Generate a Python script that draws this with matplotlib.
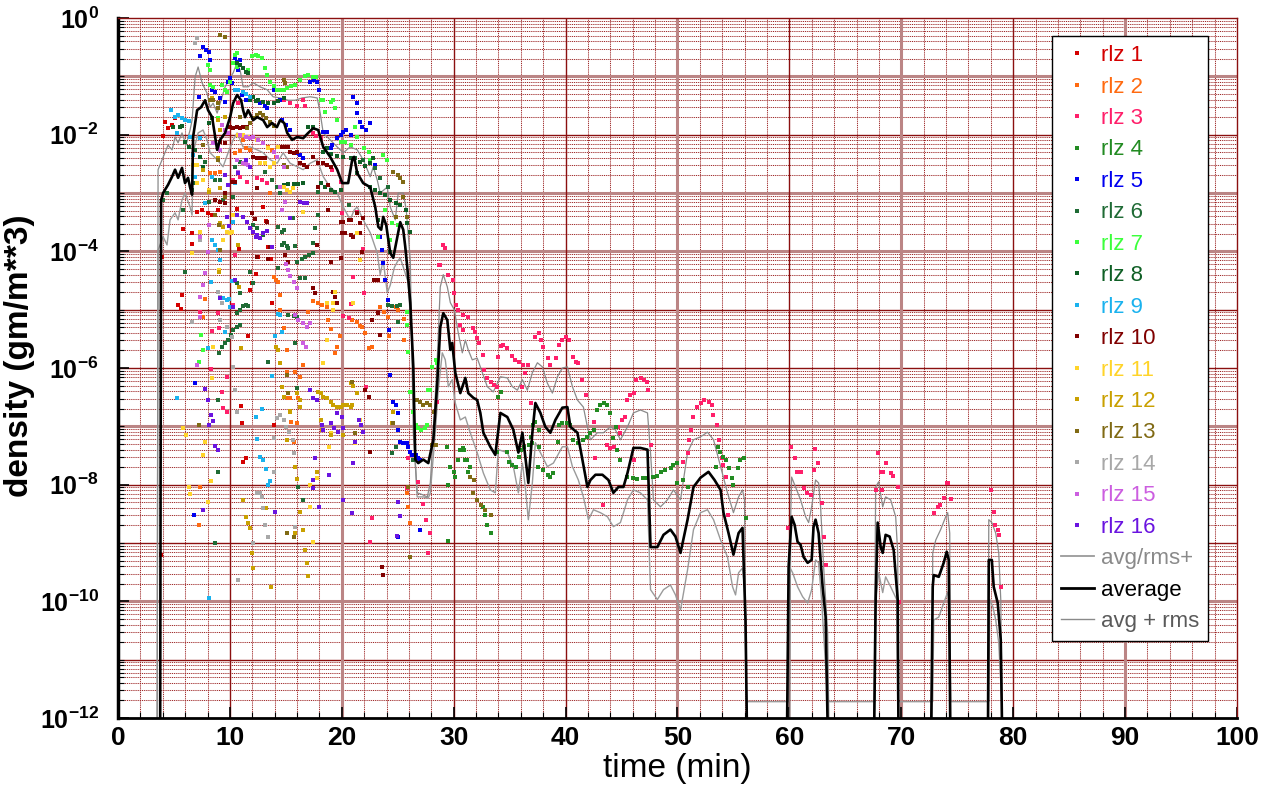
import numpy as np
import matplotlib
matplotlib.use('Agg')
import matplotlib.pyplot as plt
from matplotlib.lines import Line2D
from matplotlib.ticker import FixedLocator, NullFormatter

plt.rcParams['font.family'] = ['Liberation Sans', 'DejaVu Sans']
plt.rcParams['mathtext.fontset'] = 'custom'
plt.rcParams['mathtext.rm'] = 'Liberation Sans'
plt.rcParams['mathtext.bf'] = 'Liberation Sans:bold'
plt.rcParams['mathtext.it'] = 'Liberation Sans:italic'

# ---------------- data: (time [min], log10 density) ----------------
average = [(3.76,-13),(3.85,-3.12),(4.03,-3.0),(4.47,-2.86),(4.83,-2.72),(5.1,-2.6),(5.37,-2.74),(5.72,-2.57),
 (5.99,-2.83),(6.26,-2.74),(6.44,-2.9),(6.62,-3.03),(6.71,-2.04),(7.07,-1.58),(7.42,-1.53),(7.78,-1.41),(8.05,-1.58),
 (8.41,-1.70),(8.86,-2.26),(9.12,-2.09),(9.57,-1.97),(10.02,-1.70),(10.29,-1.46),(10.64,-1.32),(11.0,-1.41),(11.18,-1.58),
 (11.36,-1.70),(11.63,-1.58),(12.08,-1.75),(12.43,-1.70),(12.97,-1.75),(13.33,-1.87),(13.77,-1.80),(14.2,-1.87),(14.49,-1.75),
 (14.85,-1.80),(15.12,-1.97),(15.56,-2.09),(16.0,-2.04),(16.55,-2.06),(17.0,-1.97),(17.44,-1.89),(17.89,-1.92),(18.34,-2.21),
 (18.96,-2.38),(19.59,-2.6),(20.04,-2.83),(20.57,-2.83),(20.93,-2.43),(21.1,-2.38),(21.38,-2.66),(21.91,-2.83),(22.54,-2.9),
 (22.99,-3.24),(23.26,-3.58),(23.52,-3.63),(23.7,-3.41),(23.97,-3.55),(24.33,-4.03),(24.6,-4.11),(24.96,-3.75),(25.22,-3.5),
 (25.49,-3.63),(25.67,-3.92),(25.85,-4.27),(26.12,-4.88),(26.39,-5.98),(26.57,-7.57),(26.83,-7.63),(27.28,-7.57),(27.73,-7.63),
 (28.18,-7.23),(28.53,-6.26),(28.8,-5.30),(29.07,-5.06),(29.43,-5.18),(29.7,-5.69),(29.87,-5.57),(30.14,-6.08),(30.59,-6.43),
 (31.04,-6.17),(31.3,-6.43),(31.75,-6.51),(32.1,-6.55),(32.38,-6.77),(32.65,-7.11),(33.27,-7.35),(33.72,-7.49),(34.17,-6.77),
 (34.79,-6.84),(35.33,-7.06),(35.78,-7.45),(36.14,-7.11),(36.4,-7.52),(36.67,-7.97),(37.03,-7.11),(37.3,-6.6),(37.75,-6.77),
 (38.19,-7.01),(38.64,-7.11),(39.09,-6.89),(39.71,-6.68),(40.16,-6.67),(40.43,-7.01),(41.06,-7.11),(41.5,-7.57),(41.95,-8.04),
 (42.22,-7.92),(42.67,-7.83),(43.29,-7.83),(43.83,-7.92),(44.27,-8.14),(44.72,-8.04),(45.17,-8.04),(45.53,-7.8),(46.06,-7.37),
 (46.69,-7.37),(47.32,-7.4),(47.59,-9.07),(48.2,-9.07),(48.75,-8.86),(49.37,-8.77),(49.82,-8.89),(50.27,-9.17),(50.9,-8.6),
 (51.43,-8.04),(52.06,-7.88),(52.77,-7.78),(53.31,-7.92),(53.85,-8.09),(54.11,-8.48),(54.56,-8.83),(55.0,-9.2),(55.46,-8.83),
 (55.81,-8.74),(56.08,-10.32),(56.26,-13),(59.75,-13),(59.93,-9.41),(60.2,-8.55),(60.47,-8.69),(60.73,-8.98),(61.0,-9.03),
 (61.27,-9.24),(61.63,-9.34),(61.99,-9.29),(62.16,-8.72),(62.34,-8.6),(62.61,-8.83),(62.97,-9.75),(63.24,-10.27),(63.5,-13),
 (67.53,-13),(67.71,-9.97),(67.89,-8.65),(68.16,-9.07),(68.34,-9.17),(68.6,-8.86),(68.96,-8.89),(69.32,-9.12),(69.68,-9.97),
 (69.77,-13),(72.63,-13),(72.81,-9.75),(72.9,-9.55),(73.35,-9.58),(73.79,-9.34),(74.06,-9.15),(74.24,-9.29),(74.42,-13),
 (77.73,-13),(77.82,-9.29),(78.09,-9.29),(78.26,-9.75),(78.62,-10.03),(78.89,-10.66),(79.07,-13)]

avg_plus_rms = [(3.49,-13),(3.58,-2.6),(3.94,-2.43),(4.2,-2.31),(4.47,-2.18),(4.83,-2.26),(5.1,-2.04),(5.37,-2.14),
 (5.72,-1.97),(6.08,-2.18),(6.44,-1.92),(6.62,-1.75),(6.89,-1.01),(7.16,-0.84),(7.51,-1.11),(7.96,-1.29),(8.23,-1.53),
 (8.5,-1.46),(8.86,-1.63),(9.21,-1.41),(9.57,-1.18),(10.02,-1.03),(10.29,-0.94),(10.64,-0.77),(10.91,-0.89),(11.18,-1.18),
 (11.63,-1.18),(12.08,-1.11),(12.7,-1.18),(13.33,-1.23),(13.86,-1.35),(14.49,-1.37),(15.21,-1.41),(15.83,-1.41),(16.46,-1.37),
 (17.17,-1.35),(17.8,-1.37),(18.07,-1.63),(18.34,-1.97),(18.96,-2.09),(19.59,-2.21),(20.13,-2.31),(20.75,-2.21),(21.38,-2.26),
 (21.91,-2.43),(22.54,-2.72),(22.81,-2.55),(23.17,-2.78),(23.43,-3.0),(24.06,-2.9),(24.33,-3.24),(24.78,-3.46),(25.04,-3.0),
 (25.49,-3.0),(25.76,-3.29),(26.12,-4.15),(26.39,-7.11),(26.74,-8.14),(27.19,-8.17),(27.64,-8.21),(27.91,-7.97),(28.18,-7.11),
 (28.53,-5.86),(28.8,-4.61),(29.07,-4.4),(29.43,-4.61),(29.7,-4.88),(30.05,-5.0),(30.41,-5.4),(30.77,-5.74),(31.04,-5.52),
 (31.3,-5.69),(31.66,-5.86),(32.1,-5.83),(32.38,-5.98),(33.0,-6.32),(33.54,-6.41),(34.17,-6.15),(34.79,-6.17),(35.24,-6.32),
 (35.69,-6.38),(36.14,-6.2),(36.58,-6.38),(37.03,-6.08),(37.48,-5.91),(37.92,-5.98),(38.37,-6.26),(38.82,-6.43),(39.27,-6.15),
 (39.71,-6.0),(40.16,-5.98),(40.61,-6.32),(41.06,-6.55),(41.59,-6.67),(41.95,-7.01),(42.22,-7.23),(42.84,-7.11),(43.38,-7.11),
 (44.0,-7.01),(44.45,-7.06),(44.9,-7.23),(45.53,-7.01),(46.06,-6.77),(46.69,-6.72),(47.32,-6.77),(47.59,-7.45),(47.85,-8.26),
 (48.48,-8.38),(49.1,-8.26),(49.64,-8.09),(50.27,-8.26),(50.9,-7.45),(51.43,-7.23),(52.06,-7.18),(52.68,-7.1),(53.22,-7.23),
 (53.85,-7.69),(54.47,-8.14),(55.0,-8.48),(55.46,-8.21),(55.81,-8.09),(55.99,-8.26),(56.08,-10.32),(56.26,-13),(60.02,-13),
 (60.11,-8.6),(60.2,-7.87),(60.55,-8.04),(61.0,-8.26),(61.45,-8.55),(61.72,-8.65),(61.99,-8.38),(62.34,-7.92),(62.61,-7.97),
 (62.79,-8.38),(63.06,-9.41),(63.42,-10.54),(63.6,-13),(67.53,-13),(67.71,-8.04),(67.98,-7.95),(68.34,-8.38),(68.6,-8.21),
 (69.05,-8.26),(69.5,-8.55),(69.68,-9.17),(69.77,-13),(72.72,-13),(72.81,-9.17),(73.08,-8.95),(73.52,-8.77),(73.97,-8.55),
 (74.15,-8.48),(74.33,-8.83),(74.42,-13),(77.73,-13),(77.82,-8.6),(78.09,-8.65),(78.44,-8.83),(78.71,-9.17),(78.89,-9.97),
 (79.07,-13)]

avg_over_rms = [(3.49,-13),(3.58,-3.98),(4.03,-3.75),(4.38,-3.89),(4.65,-3.46),(5.1,-3.34),(5.37,-3.46),(5.72,-3.12),
 (5.99,-3.0),(6.44,-3.24),(6.62,-3.38),(6.71,-2.31),(7.16,-1.97),(7.6,-1.92),(7.96,-2.09),(8.23,-2.31),(8.86,-2.43),
 (9.39,-2.55),(9.84,-2.31),(10.29,-2.09),(10.64,-1.97),(11.18,-2.21),(11.81,-2.21),(12.43,-2.26),(12.97,-2.31),(13.6,-2.43),
 (14.22,-2.49),(14.76,-2.31),(15.38,-2.49),(16.01,-2.55),(16.55,-2.6),(17.17,-2.49),(17.8,-2.43),(18.34,-2.72),(18.96,-2.9),
 (19.59,-3.0),(20.13,-3.24),(20.75,-3.46),(21.11,-3.29),(21.38,-3.24),(21.91,-3.46),(22.54,-3.68),(23.17,-4.03),(23.43,-4.4),
 (23.7,-4.15),(24.06,-4.71),(24.33,-4.58),(24.69,-4.28),(24.96,-4.18),(25.22,-4.11),(25.58,-4.32),(25.94,-4.54),(26.3,-5.69),
 (26.57,-7.63),(26.74,-8.21),(27.28,-8.21),(27.73,-8.23),(27.91,-8.14),(28.35,-7.11),(28.62,-6.38),(28.98,-5.74),(29.25,-5.86),
 (29.52,-6.32),(29.87,-6.2),(30.14,-6.6),(30.59,-6.89),(31.04,-6.84),(31.48,-7.11),(32.1,-7.45),(32.65,-7.8),(33.27,-8.09),
 (33.72,-8.14),(33.99,-7.4),(34.79,-7.45),(35.33,-7.69),(35.78,-8.14),(36.14,-7.63),(36.4,-8.04),(36.67,-8.6),(37.03,-7.97),
 (37.3,-7.28),(37.75,-7.45),(38.37,-7.69),(38.91,-7.63),(39.71,-7.35),(40.16,-7.35),(40.61,-7.69),(41.14,-7.92),(41.59,-8.21),
 (42.04,-8.6),(42.49,-8.43),(43.11,-8.48),(43.74,-8.55),(44.27,-8.72),(44.9,-8.65),(45.53,-8.26),(46.06,-8.09),(46.69,-8.14),
 (47.32,-8.26),(47.59,-9.8),(48.2,-9.97),(48.75,-9.8),(49.37,-9.72),(49.82,-9.89),(50.27,-10.15),(50.9,-9.46),(51.43,-8.77),
 (52.06,-8.48),(52.68,-8.43),(53.22,-8.6),(53.85,-8.95),(54.47,-9.24),(54.92,-9.75),(55.19,-9.89),(55.46,-9.51),(55.81,-9.43),
 (55.99,-9.75),(56.17,-11.72),(59.93,-11.72),(60.02,-9.41),(60.29,-9.51),(60.73,-9.75),(61.18,-9.92),(61.63,-10.03),
 (61.99,-9.8),(62.34,-9.29),(62.61,-9.34),(62.88,-9.97),(63.15,-10.83),(63.42,-11.72),(67.62,-11.72),(67.71,-9.97),
 (67.98,-9.51),(68.34,-9.85),(68.6,-9.58),(69.05,-9.75),(69.59,-9.97),(69.68,-11.72),(72.81,-11.72),(72.9,-10.32),
 (73.35,-10.27),(73.79,-10.03),(74.15,-9.84),(74.33,-10.27),(74.42,-11.72),(77.82,-11.72),(77.91,-9.97),(78.18,-10.09),
 (78.44,-10.32),(78.71,-10.71),(78.98,-11.72),(79.0,-13)]

rlz1 = [(4.0,-2.02),(4.2,-1.78),(4.5,-1.89),(4.8,-1.83),(5.1,-1.71),(5.8,-3.62),(6.6,-3.68),(6.6,-3.87),(7.1,-3.32),
 (7.5,-3.29),(8.0,-3.34),(8.4,-3.38),(8.9,-3.29),(5.4,-4.92),(5.6,-4.99),(5.7,-4.75),(3.9,-4.1),(3.8,-9.2),(10.6,-3.27),
 (10.8,-3.96),(11.0,-6.65),(11.1,-6.94),(11.4,-7.54),(11.2,-7.61),(11.6,-5.45),(11.8,-4.66),(12.0,-4.54),(12.3,-4.39),
 (12.5,-4.1),(13.0,-3.24),(13.2,-3.48),(13.4,-3.92),(13.7,-4.13),(13.8,-4.88),(13.9,-6.98)]

rlz2 = [(8.2,-2.66),(8.7,-2.66),(9.1,-2.64),(10.5,-2.31),(10.9,-2.28),(11.4,-2.23),(11.8,-2.26),(11.2,-2.09),(13.4,-2.21),
 (13.8,-2.26),(14.1,-2.38),(13.6,-3.0),(7.6,-5.12),(7.8,-4.82),(7.3,-8.04),(7.2,-8.69),(13.9,-4.44),(14.1,-4.49),(14.3,-4.52),
 (14.5,-4.75),(14.8,-5.31),(15.1,-6.07),(15.4,-6.51),(15.5,-6.92),(15.7,-7.27),(15.8,-6.07),(14.5,-5.0),(15.1,-5.69),
 (16.3,-6.15),(16.5,-5.95),(15.2,-6.51),(16.0,-6.94),(16.1,-6.51),(17.0,-5.04),(17.4,-4.85),(17.9,-4.88),(18.2,-4.92),
 (18.7,-4.95),(18.8,-5.18),(19.0,-5.33),(19.4,-5.74),(19.6,-5.64),(19.8,-5.45),(20.1,-5.11),(20.6,-5.14),(20.9,-5.18),
 (21.4,-5.21),(21.6,-5.28),(21.8,-5.3),(22.1,-5.4),(22.4,-5.66),(22.7,-5.64),(23.4,-4.95),(23.8,-5.04),(24.1,-5.12),
 (24.2,-5.45),(24.8,-4.95),(25.0,-5.0),(25.6,-5.16),(25.6,-5.52),(25.8,-8.14),(25.9,-8.38),(26.1,-8.65)]

rlz3 = [(10.7,-1.46),(10.3,-2.78),(10.9,-2.72),(11.5,-2.81),(12.4,-2.74),(12.9,-2.78),(13.3,-2.83),(14.8,-1.41),(15.4,-1.46),
 (16.0,-1.51),(16.5,-1.41),(16.7,-1.51),(17.4,-1.97),(17.7,-2.02),(18.1,-2.06),(19.1,-2.6),(19.9,-2.81),(20.0,-3.34),
 (21.4,-3.32),(21.6,-3.51),(21.9,-3.96),(10.5,-4.06),(10.3,-4.92),(8.3,-6.02),(8.9,-5.06),(8.4,-5.36),(9.0,-5.31),(9.3,-6.41),
 (9.4,-6.68),(9.7,-6.75),(9.7,-6.15),(7.3,-5.04),(20.1,-5.11),(20.6,-5.14),(21.0,-4.44),(20.8,-4.9),(22.0,-4.71),(22.2,-6.32),
 (22.7,-8.57),(22.5,-8.98),(25.8,-8.05),(25.9,-7.54),(26.8,-7.95),(27.3,-8.33),(27.5,-8.6),(27.9,-8.83),(27.7,-9.17),
 (28.5,-6.58),(28.7,-4.23),(29.0,-3.89),(29.2,-3.94),(28.8,-4.23),(29.5,-4.4),(29.9,-4.49),(30.0,-4.71),(30.2,-4.92),
 (30.4,-5.0),(30.8,-5.09),(31.3,-5.12),(30.6,-5.26),(30.8,-5.35),(31.7,-5.31),(31.9,-5.38),(32.1,-5.48),(32.3,-5.57),
 (32.6,-5.78),(32.7,-6.03),(33.0,-6.17),(33.3,-6.24),(33.6,-6.29),(33.9,-6.32),(34.0,-5.81),(34.2,-5.62),(34.4,-5.6),
 (34.8,-5.66),(35.2,-5.79),(35.5,-5.86),(35.8,-5.9),(36.2,-5.95),(36.6,-5.95),(36.4,-6.08),(36.1,-6.32),(36.9,-6.6),
 (37.3,-5.47),(37.6,-5.4),(37.8,-5.52),(38.0,-5.64),(38.4,-5.83),(38.6,-5.95),(39.1,-5.83),(39.4,-5.6),(39.7,-5.52),
 (40.0,-5.47),(40.3,-5.52),(40.7,-5.81),(40.9,-5.9),(41.1,-5.91),(41.5,-6.2),(41.8,-6.46),(42.5,-6.92),(42.6,-7.54),
 (43.3,-8.35),(43.7,-7.32),(44.0,-7.37),(44.3,-7.35),(44.7,-7.01),(45.0,-6.89),(45.3,-6.84),(45.5,-6.55),(45.8,-6.46),
 (46.1,-6.43),(46.3,-6.2),(46.7,-6.17),(47.0,-6.2),(47.3,-6.24),(47.4,-6.38),(47.6,-7.32),(46.1,-7.57),(44.9,-7.11),
 (50.5,-7.61),(50.9,-7.45),(51.0,-7.23),(51.2,-7.06),(51.4,-6.84),(51.7,-6.67),(52.1,-6.6),(52.4,-6.55),(52.8,-6.58),
 (53.1,-6.63),(53.2,-6.8),(53.5,-6.98),(53.7,-7.23),(54.0,-7.54),(54.1,-7.66),(54.3,-7.87),(54.5,-8.52),(59.9,-8.74),
 (60.1,-7.35),(60.5,-7.54),(60.7,-7.78),(61.0,-7.78),(61.3,-8.05),(61.6,-8.14),(61.9,-8.17),(62.2,-7.75),(62.3,-7.39),
 (62.6,-7.63),(62.9,-8.31),(63.1,-8.89),(63.3,-9.37),(67.7,-8.09),(67.9,-7.45),(68.2,-7.78),(68.3,-8.09),(68.4,-7.78),
 (68.6,-7.63),(69.1,-7.8),(69.3,-7.85),(69.7,-8.04),(69.8,-10.01),(72.9,-8.48),(73.3,-8.38),(73.5,-8.35),(73.8,-8.23),
 (74.1,-7.97),(74.2,-7.97),(74.4,-8.24),(78.0,-8.09),(78.3,-8.47),(78.4,-8.69),(78.6,-8.77),(78.7,-8.86),(78.9,-9.75)]

rlz4 = [(29.4,-7.35),(29.7,-7.69),(29.5,-8.0),(29.5,-8.96),(30.0,-7.78),(30.1,-7.87),(30.4,-7.57),(30.6,-7.4),(30.9,-7.4),
 (31.0,-7.57),(31.3,-7.78),(31.5,-7.69),(31.8,-7.92),(32.6,-8.38),(32.8,-8.52),(33.0,-8.69),(33.3,-8.83),(30.8,-7.37),
 (31.2,-7.57),(33.9,-7.44),(34.0,-6.5),(34.2,-6.41),(34.8,-7.44),(34.9,-7.61),(35.2,-7.66),(35.6,-7.69),(35.8,-7.52),
 (36.0,-7.4),(36.3,-7.35),(36.7,-7.32),(37.0,-7.28),(37.1,-6.98),(37.3,-6.92),(37.6,-7.06),(36.9,-7.18),(37.6,-7.35),
 (37.5,-7.69),(38.0,-7.75),(38.4,-7.83),(38.6,-7.87),(38.9,-7.8),(39.3,-7.27),(39.4,-6.98),(39.7,-6.94),(40.1,-6.94),
 (40.4,-6.98),(40.7,-7.23),(41.1,-7.28),(41.6,-7.23),(41.9,-7.18),(42.2,-7.11),(42.5,-7.06),(42.8,-6.72),(43.1,-6.63),
 (43.4,-6.6),(43.7,-6.63),(44.0,-6.77),(44.2,-7.2),(44.5,-7.01),(44.6,-7.4),(44.9,-7.57),(45.5,-7.87),(46.0,-7.88),
 (46.4,-7.9),(46.9,-7.88),(47.3,-7.88),(47.8,-7.87),(48.2,-7.85),(48.5,-7.78),(48.9,-7.75),(49.4,-7.71),(49.6,-7.66),
 (50.0,-7.63),(50.0,-7.97),(50.5,-7.92),(50.9,-8.04),(53.4,-7.69),(53.6,-7.35),(53.8,-7.44),(54.1,-7.52),(54.3,-7.57),
 (54.6,-7.71),(54.9,-7.88),(55.0,-8.0),(55.4,-7.71),(55.6,-7.57),(55.9,-7.54),(56.1,-8.57)]

rlz5 = [(7.3,-0.65),(7.6,-0.5),(7.9,-0.55),(8.1,-0.58),(8.2,-0.72),(7.2,-1.35),(8.4,-1.23),(8.7,-1.27),(9.1,-1.37),
 (9.6,-1.44),(9.8,-1.1),(10.0,-1.03),(10.2,-1.11),(10.5,-0.69),(10.6,-0.75),(10.9,-0.72),(10.7,-0.89),(11.1,-1.32),
 (11.4,-1.41),(12.7,-1.46),(13.1,-1.51),(13.3,-1.54),(13.9,-1.23),(14.2,-1.23),(14.5,-1.41),(14.7,-1.75),(15.0,-1.83),
 (15.4,-1.92),(16.0,-2.31),(16.3,-2.35),(16.5,-2.4),(17.2,-1.1),(17.5,-1.06),(17.8,-1.1),(18.0,-1.23),(18.3,-1.95),
 (18.7,-1.95),(19.1,-2.18),(19.6,-2.06),(19.9,-2.01),(20.1,-1.95),(20.4,-1.92),(20.8,-2.01),(19.0,-2.23),(21.0,-1.35),
 (21.4,-1.46),(21.4,-1.63),(21.6,-1.78),(21.8,-1.87),(22.2,-1.92),(22.5,-1.8),(23.0,-2.52),(23.4,-3.75),(23.6,-3.98),
 (23.7,-4.2),(23.9,-4.49),(24.1,-4.83),(24.2,-5.35),(24.3,-6.12),(24.6,-6.58),(24.8,-6.63),(25.0,-6.77),(25.0,-7.06),
 (25.2,-7.27),(25.5,-7.28),(25.8,-7.28),(25.9,-7.35),(26.1,-7.44),(26.3,-7.49),(26.6,-7.49),(26.8,-7.54),(27.0,-7.57),
 (6.9,-6.26),(6.8,-8.52),(25.0,-8.89),(27.0,-8.77)]

rlz6 = [(4.0,-3.12),(4.4,-3.0),(5.8,-3.29),(6.6,-2.95),(6.7,-2.83),(7.8,-2.47),(8.7,-2.78),(9.1,-2.78),(9.4,-3.12),
 (10.3,-3.07),(10.5,-2.55),(10.9,-2.47),(13.1,-2.64),(13.8,-2.78),(14.2,-2.9),(8.1,-3.15),(6.0,-4.35),(9.0,-5.74),
 (9.3,-5.64),(9.6,-5.57),(9.8,-5.52),(10.1,-5.43),(10.3,-5.35),(10.6,-5.3),(10.9,-5.26),(8.9,-6.55),(8.9,-7.78),(8.7,-9.0),
 (10.6,-5.06),(10.9,-5.0),(11.2,-4.94),(11.4,-4.92),(10.9,-4.71),(11.6,-4.94),(11.8,-4.35),(12.1,-4.54),(10.6,-4.54),
 (13.4,-5.9),(14.3,-4.28),(14.8,-3.86),(15.1,-3.91),(15.2,-5.09),(15.7,-5.11),(16.0,-5.12),(15.8,-5.57),(16.0,-6.34),
 (16.1,-8.04),(16.5,-8.26),(14.3,-3.58),(14.7,-3.67),(12.1,-3.55),(12.4,-3.6),(13.0,-3.72),(14.7,-3.89),(15.2,-3.94),
 (15.8,-3.91),(16.0,-4.18),(16.4,-4.13),(16.7,-4.1),(17.1,-4.06),(17.4,-4.03),(16.3,-4.46),(16.7,-4.46),(17.4,-3.86),
 (21.4,-2.66),(21.9,-2.43),(23.0,-2.57),(23.4,-2.74),(24.1,-2.9),(17.9,-2.98),(20.6,-3.2),(17.9,-3.38),(17.6,-3.6),
 (14.8,-3.63),(15.6,-3.43),(14.5,-3.0),(23.2,-3.46),(24.1,-4.92),(24.5,-4.94),(24.9,-4.94),(25.2,-4.92),(25.0,-5.21),
 (24.5,-7.45),(24.8,-7.35),(26.4,-7.57),(24.3,-4.01)]

rlz7 = [(8.0,-0.81),(8.2,-0.89),(8.2,-1.15),(8.5,-1.18),(8.9,-1.71),(9.3,-1.15),(9.6,-1.23),(9.7,-1.27),(10.0,-1.1),
 (10.3,-0.77),(10.5,-0.63),(10.6,-0.6),(10.6,-0.84),(11.6,-0.89),(12.0,-0.65),(12.3,-0.63),(12.5,-0.65),(12.9,-0.69),
 (13.1,-0.86),(13.3,-0.98),(13.6,-1.1),(13.9,-1.17),(14.2,-1.23),(14.5,-1.23),(14.8,-1.23),(15.1,-1.2),(15.5,-1.17),
 (15.8,-1.15),(16.3,-1.06),(16.7,-0.99),(17.0,-0.98),(17.4,-1.01),(17.7,-1.01),(18.1,-1.41),(18.3,-1.41),(18.5,-1.61),
 (19.0,-1.44),(19.2,-1.41),(19.4,-1.54),(19.6,-1.75),(19.9,-2.13),(20.3,-2.13),(20.8,-2.18),(21.2,-1.87),(21.4,-2.04),
 (22.0,-2.23),(22.4,-2.3),(22.5,-2.43),(23.7,-2.35),(24.0,-2.43),(23.9,-3.29),(24.5,-3.51),(24.8,-3.41),(25.0,-3.55),
 (23.2,-3.75),(24.3,-3.8),(7.4,-5.43),(7.6,-5.69),(7.2,-5.9),(25.8,-5.04),(25.8,-5.26),(25.9,-5.72),(26.1,-6.41),
 (26.3,-6.41),(26.4,-6.75),(26.6,-6.98),(26.8,-7.03),(27.1,-7.06),(27.4,-7.03),(27.6,-6.98),(27.9,-6.38),(28.1,-5.98),
 (28.4,-5.86),(28.5,-5.91),(27.7,-6.38)]

rlz8 = [(10.6,-0.77),(10.9,-0.81),(11.2,-0.86),(11.4,-0.93),(11.6,-0.94),(11.8,-1.41),(12.1,-1.35),(12.3,-1.42),
 (12.5,-1.41),(13.0,-1.44),(13.4,-1.46),(13.9,-1.46),(14.3,-1.42),(14.8,-1.37),(4.9,-1.87),(5.5,-1.87),(5.7,-1.85),
 (6.0,-2.13),(6.3,-2.21),(6.9,-2.26),(7.3,-2.38),(7.6,-2.55),(8.1,-1.8),(8.4,-1.71),(17.0,-1.87),(17.4,-1.87),(18.3,-2.3),
 (18.7,-2.23),(19.0,-2.33),(19.6,-2.37),(20.1,-2.38),(20.8,-2.4),(21.2,-2.4),(21.6,-2.47),(22.1,-2.54),(22.5,-2.48),
 (22.8,-2.4),(18.1,-2.83),(18.5,-2.9),(19.0,-2.95),(19.4,-2.98),(19.9,-2.95),(14.8,-2.86),(15.2,-2.84),(15.7,-2.84),
 (16.1,-2.84),(16.5,-2.83),(22.5,-2.9),(23.0,-2.95),(23.4,-3.0),(23.9,-3.03),(24.3,-3.12),(24.8,-3.17),(25.2,-3.2),
 (25.7,-3.29),(25.8,-3.51),(26.1,-3.67)]

rlz9 = [(4.7,-1.58),(5.1,-1.7),(5.4,-1.66),(5.7,-1.71),(6.0,-1.75),(6.3,-1.77),(5.3,-1.97),(6.4,-2.04),(6.7,-2.35),
 (7.3,-2.06),(6.9,-2.72),(8.4,-2.72),(7.8,-3.17),(10.5,-1.23),(10.7,-1.23),(11.2,-1.27),(11.4,-1.3),(11.8,-1.35),
 (10.5,-2.83),(8.4,-3.8),(8.7,-3.89),(8.9,-3.98),(9.1,-4.15),(8.3,-4.52),(9.4,-4.8),(9.7,-4.83),(9.9,-4.82),(10.0,-4.95),
 (10.2,-4.51),(10.3,-3.5),(9.6,-5.38),(8.0,-5.66),(5.3,-6.51),(12.9,-6.7),(12.3,-6.84),(12.4,-7.22),(12.7,-7.52),
 (13.0,-7.57),(13.2,-7.73),(13.4,-8.0),(13.6,-7.93),(8.1,-9.94),(14.0,-5.45),(13.8,-6.14),(14.3,-5.07),(14.5,-5.09),
 (14.7,-5.38)]

rlz10 = [(10.0,-1.87),(10.3,-1.89),(10.6,-1.87),(10.9,-1.89),(11.2,-1.87),(11.5,-1.87),(9.1,-2.13),(9.6,-2.14),
 (12.1,-2.38),(12.4,-2.4),(12.8,-2.4),(13.1,-2.4),(10.2,-2.81),(10.5,-2.81),(9.6,-3.0),(12.4,-2.91),(14.5,-2.21),
 (14.8,-2.21),(15.2,-2.21),(15.4,-2.3),(15.7,-2.31),(16.0,-2.3),(16.3,-2.48),(16.6,-2.52),(16.9,-2.55),(17.4,-2.38),
 (17.9,-2.48),(18.3,-2.48),(18.7,-2.52),(19.0,-2.55),(17.9,-2.9),(18.8,-2.86),(18.8,-3.29),(19.9,-3.5),(20.1,-3.5),
 (20.6,-3.46),(20.8,-3.46),(20.3,-3.68),(21.4,-3.34),(21.6,-3.51),(21.9,-3.43),(21.6,-3.68),(8.7,-3.12),(9.1,-3.15),
 (9.6,-3.17),(12.0,-3.34),(12.2,-3.44),(13.3,-3.5),(13.6,-3.92),(12.4,-4.1),(13.4,-4.13),(17.4,-4.63),(17.6,-4.71),
 (17.8,-3.89),(19.9,-4.11),(19.0,-4.18),(19.2,-4.7),(19.4,-4.78),(19.6,-4.88),(20.0,-3.68),(20.8,-3.72),(21.0,-3.75),
 (21.8,-4.01),(22.9,-4.49),(23.2,-4.49),(22.7,-5.18),(23.4,-5.43),(23.2,-5.06),(22.1,-6.38),(22.4,-6.5),(22.5,-7.44),
 (23.6,-9.41),(23.7,-9.55),(14.9,-4.06),(15.2,-4.18)]

rlz11 = [(7.1,-2.52),(7.6,-2.78),(8.1,-2.95),(7.1,-2.83),(6.7,-2.52),(10.7,-2.01),(11.2,-2.01),(11.6,-2.04),(12.1,-2.04),
 (12.4,-2.09),(12.7,-2.48),(13.1,-2.48),(13.4,-2.23),(13.6,-2.55),(13.9,-2.48),(14.3,-2.21),(14.8,-2.9),(15.1,-2.95),
 (15.4,-2.98),(15.6,-2.91),(16.5,-3.32),(10.2,-3.67),(6.6,-4.03),(7.3,-3.67),(9.4,-3.8),(9.7,-3.67),(10.0,-3.68),
 (10.3,-3.38),(9.0,-4.32),(8.5,-5.64),(8.4,-6.17),(5.8,-7.03),(6.1,-7.15),(7.8,-7.27),(7.6,-7.49),(6.3,-8.04),(6.4,-8.16),
 (8.3,-7.93),(8.0,-8.29),(18.3,-5.91),(18.7,-5.52),(19.2,-5.0),(19.4,-4.7),(18.7,-4.88),(19.2,-4.88),(21.0,-4.88),
 (21.6,-4.15),(21.4,-3.68),(19.0,-7.11),(18.9,-7.35),(17.8,-7.88),(17.2,-8.0),(17.2,-8.38),(17.4,-8.98),(21.6,-6.89),
 (21.2,-7.28)]

rlz12 = [(8.4,-1.37),(8.9,-1.75),(9.1,-1.92),(9.6,-1.7),(7.6,-2.6),(8.1,-2.98),(8.9,-2.4),(9.1,-2.91),(9.1,-3.51),
 (9.4,-3.58),(9.0,-4.35),(10.7,-3.89),(10.8,-4.61),(11.0,-5.66),(11.2,-8.26),(11.4,-8.55),(11.6,-8.65),(11.8,-8.74),
 (12.0,-9.17),(12.1,-9.43),(13.2,-8.4),(13.7,-9.75),(14.1,-5.64),(14.3,-5.69),(14.5,-5.91),(14.7,-6.32),(14.8,-6.5),
 (15.4,-6.74),(15.1,-7.23),(15.8,-7.69),(16.0,-7.9),(15.8,-8.83),(16.0,-6.43),(16.3,-6.55),(16.3,-6.67),(15.4,-6.75),
 (16.3,-8.47),(16.5,-8.77),(16.7,-9.12),(16.9,-9.34),(17.0,-9.56),(17.8,-7.78),(18.1,-6.89),(17.9,-6.41),(18.1,-6.43),
 (18.3,-6.5),(18.7,-6.51),(19.0,-6.58),(19.2,-6.63),(19.6,-6.67),(19.9,-6.67),(20.1,-6.63),(20.5,-6.63),(20.8,-6.67),
 (20.9,-6.63),(20.8,-6.26),(21.0,-6.31),(21.4,-6.43),(18.2,-7.06),(19.0,-7.15),(20.1,-7.15),(24.5,-6.94),(24.6,-6.75)]

rlz13 = [(9.1,-0.29),(9.6,-0.33),(8.2,-1.41),(8.5,-1.41),(8.9,-1.46),(8.9,-1.54),(7.6,-2.18),(8.9,-2.43),(9.6,-3.07),
 (9.1,-3.98),(10.9,-1.7),(11.5,-1.89),(11.8,-1.8),(12.1,-1.71),(12.4,-1.66),(12.7,-1.63),(13.0,-1.66),(13.2,-1.71),
 (13.6,-1.78),(13.9,-1.85),(14.8,-1.06),(14.9,-1.11),(14.8,-2.52),(15.1,-2.55),(24.6,-2.64),(25.0,-2.69),(25.2,-2.74),
 (25.5,-2.81),(25.5,-3.07),(25.8,-3.41),(24.8,-3.41),(8.7,-3.38),(9.0,-3.55),(7.2,-6.98),(15.1,-6.12),(15.2,-6.43),
 (15.1,-8.83),(15.7,-8.89),(20.9,-6.24),(21.2,-7.11),(24.6,-6.94),(25.9,-8.04),(26.1,-9.24),(26.7,-6.55),(27.0,-6.58),
 (27.3,-6.63),(27.6,-6.6),(27.9,-6.63),(28.2,-6.75),(28.1,-7.32),(28.4,-7.32),(31.5,-7.87),(31.8,-7.92),(31.7,-8.14),
 (32.1,-8.26),(32.4,-8.35),(32.8,-8.43),(33.3,-8.52)]

rlz14 = [(6.9,-0.43),(7.1,-0.34),(7.3,-3.8),(6.6,-5.21),(8.9,-4.7),(9.1,-4.78),(9.3,-4.88),(9.1,-5.18),(9.7,-5.3),
 (10.2,-5.47),(10.3,-5.98),(10.5,-6.38),(10.6,-6.75),(10.7,-9.63),(12.1,-9.0),(12.4,-8.14),(12.7,-8.14),(12.9,-8.21),
 (13.0,-8.4),(13.1,-8.69),(13.4,-8.89),(13.9,-7.2),(13.9,-7.78),(14.2,-6.86),(14.5,-6.8),(14.8,-6.89),(15.0,-7.01),
 (15.3,-7.1),(15.6,-7.23),(15.7,-7.45),(15.8,-8.72)]

rlz15 = [(9.3,-1.83),(9.6,-1.92),(9.8,-1.97),(8.5,-2.14),(8.9,-2.21),(9.1,-2.26),(10.6,-2.43),(10.9,-2.01),(11.2,-2.48),
 (11.4,-2.04),(11.6,-2.52),(11.8,-2.06),(11.4,-2.5),(12.1,-2.04),(12.5,-2.09),(13.0,-2.14),(10.7,-2.64),(13.9,-2.3),
 (14.2,-2.38),(14.8,-2.55),(8.0,-4.01),(7.3,-3.75),(8.1,-3.55),(7.8,-4.37),(7.6,-4.58),(7.3,-4.78),(7.3,-5.12),(7.1,-5.95),
 (14.5,-2.9),(14.7,-3.29),(14.9,-3.15),(15.0,-4.22),(15.2,-4.32),(15.4,-4.42),(15.7,-4.52),(16.0,-4.63),(15.8,-5.09),
 (16.1,-5.18),(16.5,-5.23),(16.9,-5.3),(17.2,-5.23),(16.5,-5.57),(16.8,-5.64)]

rlz16 = [(9.6,-2.69),(9.8,-2.86),(10.7,-2.66),(11.4,-2.43),(11.8,-2.55),(9.7,-3.41),(10.6,-3.38),(11.2,-3.41),(11.5,-3.5),
 (11.8,-3.6),(12.1,-3.67),(12.4,-3.72),(12.7,-3.77),(13.0,-3.68),(13.3,-3.65),(12.3,-3.75),(16.3,-3.15),(16.6,-3.17),
 (16.9,-3.17),(15.4,-3.43),(13.8,-3.92),(9.9,-3.56),(10.5,-4.49),(10.3,-4.95),(9.1,-4.8),(7.8,-6.36),(8.0,-6.55),(8.3,-6.8),
 (8.5,-6.91),(8.1,-6.98),(8.7,-7.34),(8.9,-7.4),(7.6,-8.43),(14.0,-8.47),(17.2,-6.38),(17.4,-6.51),(17.8,-6.55),(18.2,-6.98),
 (18.3,-7.06),(19.0,-6.94),(19.3,-7.03),(19.7,-7.1),(20.1,-7.03),(19.6,-6.77),(20.0,-6.84),(21.2,-7.27),(21.5,-6.89),
 (21.7,-6.98),(21.9,-7.1),(21.0,-7.63),(20.9,-8.48),(20.1,-8.26),(18.9,-7.83),(17.4,-7.92),(18.0,-8.38),(17.6,-7.54),
 (17.4,-8.05),(25.0,-8.29),(25.2,-8.53),(24.9,-8.88)]

series = [rlz1, rlz2, rlz3, rlz4, rlz5, rlz6, rlz7, rlz8, rlz9, rlz10, rlz11, rlz12, rlz13, rlz14, rlz15, rlz16]
labels = ['rlz %d' % (i + 1) for i in range(16)]
colors = ['#d40000', '#ff6a10', '#ff1f6a', '#228b22', '#0000f0', '#1f6b35', '#3cff3c', '#0f5f25',
          '#1ab2ee', '#800000', '#ffd42a', '#c9a000', '#806a14', '#a8a8a8', '#cc5ee0', '#6a14e0']

# ---------------- figure ----------------
fig = plt.figure(figsize=(12.73, 8.0), dpi=100)
ax = fig.add_axes([0.0927, 0.1025, 0.879, 0.875])
ax.set_yscale('log')
ax.set_xlim(0, 100)
ax.set_ylim(1e-12, 1)

# grid (drawn manually to mimic dotted minor + solid major lines)
for d in range(-12, 0):
    for k in range(2, 10):
        yv = k * 10.0 ** d
        ax.axhline(yv, color='#f0dede', lw=0.8, zorder=0.2)
        ax.axhline(yv, color='#9a2020', lw=0.7, ls=(0, (1, 1.2)), zorder=0.3)
for xv in range(2, 100, 2):
    if xv % 10:
        ax.axvline(xv, color='#f0dede', lw=0.8, zorder=0.2)
        ax.axvline(xv, color='#9a2020', lw=0.7, ls=(0, (1, 1.2)), zorder=0.3)
thick_h = [-1, -3, -4, -7, -10]
for d in range(-11, 0):
    if d in thick_h:
        ax.axhline(10.0 ** d, color='#bb8585', lw=2.2, zorder=0.4)
    else:
        ax.axhline(10.0 ** d, color='#8b1010', lw=1.0, zorder=0.4)
thick_v = [20, 50, 70, 90]
for xv in range(10, 100, 10):
    if xv in thick_v:
        ax.axvline(xv, color='#bb8585', lw=2.2, zorder=0.4)
    else:
        ax.axvline(xv, color='#8b1010', lw=1.0, zorder=0.4)

# rms envelope lines
t, e = np.array(avg_over_rms).T
ax.plot(t, 10.0 ** e, color='#9a9a9a', lw=1.0, zorder=2)
t, e = np.array(avg_plus_rms).T
ax.plot(t, 10.0 ** e, color='#8a8a8a', lw=0.9, zorder=2)

# realization points
for s, c in zip(series, colors):
    t, e = np.array(s).T
    ax.plot(t, 10.0 ** e, ls='none', marker='s', ms=2.6, mew=0, color=c, zorder=3)

# average
t, e = np.array(average).T
ax.plot(t, 10.0 ** e, color='black', lw=1.9, zorder=4)

# axes styling
for sp in ['left', 'bottom']:
    ax.spines[sp].set_color('black')
ax.spines['left'].set_linewidth(2.5)
ax.spines['bottom'].set_linewidth(2.0)
for sp in ['top', 'right']:
    ax.spines[sp].set_color('#8b1010')
    ax.spines[sp].set_linewidth(1.0)

yt = [10.0 ** k for k in range(-12, 1, 2)]
ax.yaxis.set_major_locator(FixedLocator(yt))
ax.set_yticklabels([r'$\mathbf{10^{%d}}$' % k for k in range(-12, 1, 2)], fontsize=18)
ax.yaxis.set_minor_locator(FixedLocator([k * 10.0 ** d for d in range(-12, 0) for k in range(1, 10)]))
ax.yaxis.set_minor_formatter(NullFormatter())
ax.set_xticks(range(0, 101, 10))
ax.set_xticklabels([str(v) for v in range(0, 101, 10)], fontsize=19, fontweight='bold')
ax.xaxis.set_minor_locator(FixedLocator(list(range(0, 101, 2))))
ax.tick_params(which='major', direction='in', length=8, width=1.2, color='black', pad=14)
ax.tick_params(which='minor', direction='in', length=4, width=0.8, color='black')
ax.tick_params(axis='x', which='major', pad=6)

ax.set_xlabel('time (min)', fontsize=24, labelpad=2)
ax.set_ylabel('density (gm/m**3)', fontsize=24, fontweight='bold')
ax.yaxis.set_label_coords(-0.074, 0.517)

# legend
handles = [Line2D([], [], ls='none', marker='s', ms=2.6, mew=0, color=c) for c in colors]
handles += [Line2D([], [], color='#9a9a9a', lw=1.3),
            Line2D([], [], color='black', lw=2.0),
            Line2D([], [], color='#8a8a8a', lw=1.0)]
leg_labels = labels + ['avg/rms+', 'average', 'avg + rms']
leg = ax.legend(handles, leg_labels, loc='upper right', bbox_to_anchor=(0.974, 0.974),
                fontsize=16, frameon=True, fancybox=False, framealpha=1, edgecolor='black',
                handlelength=1.5, handletextpad=0.3, labelspacing=0.47, borderpad=0.4,
                borderaxespad=0)
leg.get_frame().set_linewidth(1.0)
leg.set_zorder(10)
text_colors = colors + ['#8a8a8a', 'black', '#5a5a5a']
for txt, c in zip(leg.get_texts(), text_colors):
    txt.set_color(c)

fig.savefig('out.png', dpi=100)
